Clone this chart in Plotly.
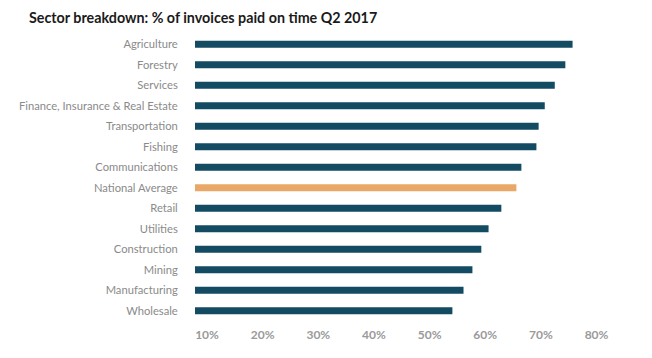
import plotly.graph_objects as go

categories = ["Agriculture", "Forestry", "Services", "Finance, Insurance & Real Estate",
              "Transportation", "Fishing", "Communications", "National Average",
              "Retail", "Utilities", "Construction", "Mining", "Manufacturing", "Wholesale"]
values = [75.7, 74.4, 72.5, 70.7, 69.6, 69.2, 66.5, 65.6, 62.9, 60.6, 59.3, 57.7, 56.1, 54.1]
tick_vals = [10, 20, 30, 40, 50, 60, 70, 80]
tick_text = ["10%", "20%", "30%", "40%", "50%", "60%", "70%", "80%"]

colors = ["#e9a867" if c == "National Average" else "#134b63" for c in categories]

fig = go.Figure(go.Bar(
    y=categories, x=values, orientation="h",
    marker=dict(color=colors, line=dict(width=0)),
    width=0.33,
    hoverinfo="x+y",
))

fig.update_layout(
    width=652, height=358,
    margin=dict(l=195, r=32, t=34, b=37),
    paper_bgcolor="white", plot_bgcolor="white",
    showlegend=False,
    title=dict(text="Sector breakdown: % of invoices paid on time Q2 2017",
               x=29/652, xref="container", xanchor="left",
               y=1 - 18/358, yref="container", yanchor="middle",
               font=dict(family="Lato", size=14.3, color="#1a1a1a", weight="bold")),
    font=dict(family="Lato"),
)

fig.update_xaxes(
    range=[7.84, 7.84 + 425/5.564],
    tickvals=tick_vals, ticktext=tick_text,
    showgrid=False, zeroline=False, showline=False,
    ticks="outside", ticklen=3, tickcolor="rgba(0,0,0,0)",
    tickfont=dict(family="Lato", size=12, color="#9a9a9a", weight="bold"),
)
fig.update_yaxes(
    categoryorder="array", categoryarray=categories[::-1],
    range=[-0.5, 13.5],
    showgrid=False, zeroline=False, showline=False,
    ticks="outside", ticklen=14, tickcolor="rgba(0,0,0,0)",
    tickfont=dict(family="Lato", size=11.2, color="#8a8a8a"),
)

fig.write_html("out.html", config={"displayModeBar": False},
               post_script="document.body.style.margin='0';")
